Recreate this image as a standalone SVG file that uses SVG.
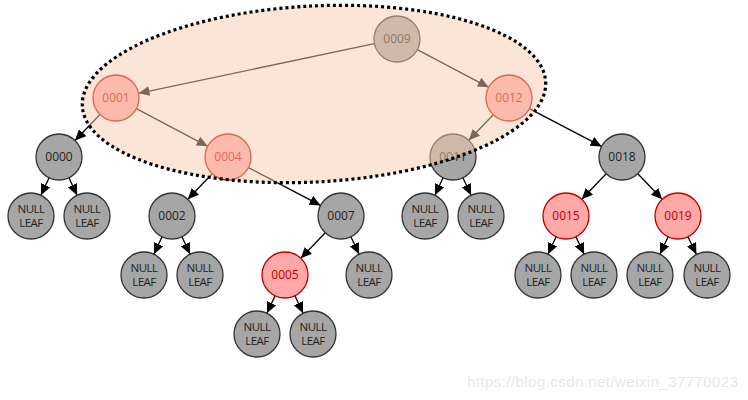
<svg xmlns="http://www.w3.org/2000/svg" width="748" height="400" viewBox="0 0 748 400">
<defs>
<marker id="arr" markerUnits="userSpaceOnUse" markerWidth="11" markerHeight="10" refX="11" refY="5" orient="auto">
<path d="M0,0 L11,5 L0,10 z" fill="#000"/>
</marker>
<style>
.e{stroke:#000;stroke-width:1.3;fill:none;marker-end:url(#arr)}
.g circle{fill:#a6a6a6;stroke:#333;stroke-width:1.3}
.r circle{fill:#ffa8a8;stroke:#c00000;stroke-width:1.3}
text{font-family:"Open Sans","Noto Sans","Liberation Sans",sans-serif;font-size:12px;text-anchor:middle}
.g text{fill:#222}
.r text{fill:#c00000}
.n text{font-size:11.5px;letter-spacing:-0.5px}
</style>
</defs>
<rect width="748" height="400" fill="#fff"/>
<g id="connectors">
<line class="e" x1="374.5" y1="43.7" x2="138.5" y2="93.3"/>
<line class="e" x1="417.3" y1="49.7" x2="488.7" y2="87.3"/>
<line class="e" x1="100" y1="114.5" x2="75" y2="140.5"/>
<line class="e" x1="136.3" y1="108.7" x2="207.7" y2="146.3"/>
<line class="e" x1="493.2" y1="114.7" x2="468.8" y2="140.3"/>
<line class="e" x1="529.4" y1="108.6" x2="601.6" y2="146.4"/>
<line class="e" x1="49.1" y1="177.8" x2="40.9" y2="195.2"/>
<line class="e" x1="68.9" y1="177.8" x2="77.1" y2="195.2"/>
<line class="e" x1="212.2" y1="173.7" x2="187.8" y2="199.3"/>
<line class="e" x1="248.4" y1="167.6" x2="320.6" y2="205.4"/>
<line class="e" x1="443.1" y1="177.8" x2="434.9" y2="195.2"/>
<line class="e" x1="462.9" y1="177.8" x2="471.1" y2="195.2"/>
<line class="e" x1="606.2" y1="173.7" x2="581.8" y2="199.3"/>
<line class="e" x1="637.8" y1="173.7" x2="662.2" y2="199.3"/>
<line class="e" x1="162.1" y1="236.8" x2="153.9" y2="254.2"/>
<line class="e" x1="181.9" y1="236.8" x2="190.1" y2="254.2"/>
<line class="e" x1="325.2" y1="232.7" x2="300.8" y2="258.3"/>
<line class="e" x1="350.9" y1="236.8" x2="359.1" y2="254.2"/>
<line class="e" x1="556.1" y1="236.8" x2="547.9" y2="254.2"/>
<line class="e" x1="575.9" y1="236.8" x2="584.1" y2="254.2"/>
<line class="e" x1="668.1" y1="236.8" x2="659.9" y2="254.2"/>
<line class="e" x1="687.9" y1="236.8" x2="696.4" y2="254.2"/>
<line class="e" x1="275.1" y1="295.8" x2="266.9" y2="313.2"/>
<line class="e" x1="294.9" y1="295.8" x2="303.1" y2="313.2"/>
</g>
<g id="n0009" class="g"><circle cx="397" cy="39" r="23"/><text x="397" y="43">0009</text></g>
<g id="n0001" class="r"><circle cx="116" cy="98" r="23"/><text x="116" y="102">0001</text></g>
<g id="n0012" class="r"><circle cx="509" cy="98" r="23"/><text x="509" y="102">0012</text></g>
<g id="n0000" class="g"><circle cx="59" cy="157" r="23"/><text x="59" y="161">0000</text></g>
<g id="n0004" class="r"><circle cx="228" cy="157" r="23"/><text x="228" y="161">0004</text></g>
<g id="n0011" class="g"><circle cx="453" cy="157" r="23"/><text x="453" y="161">0011</text></g>
<g id="n0018" class="g"><circle cx="622" cy="157" r="23"/><text x="622" y="161">0018</text></g>
<g id="leaf1" class="g n"><circle cx="31" cy="216" r="23"/><text x="31" y="213">NULL<tspan x="31" dy="13.5">LEAF</tspan></text></g>
<g id="leaf2" class="g n"><circle cx="87" cy="216" r="23"/><text x="87" y="213">NULL<tspan x="87" dy="13.5">LEAF</tspan></text></g>
<g id="n0002" class="g"><circle cx="172" cy="216" r="23"/><text x="172" y="220">0002</text></g>
<g id="n0007" class="g"><circle cx="341" cy="216" r="23"/><text x="341" y="220">0007</text></g>
<g id="leaf3" class="g n"><circle cx="425" cy="216" r="23"/><text x="425" y="213">NULL<tspan x="425" dy="13.5">LEAF</tspan></text></g>
<g id="leaf4" class="g n"><circle cx="481" cy="216" r="23"/><text x="481" y="213">NULL<tspan x="481" dy="13.5">LEAF</tspan></text></g>
<g id="n0015" class="r"><circle cx="566" cy="216" r="23"/><text x="566" y="220">0015</text></g>
<g id="n0019" class="r"><circle cx="678" cy="216" r="23"/><text x="678" y="220">0019</text></g>
<g id="leaf5" class="g n"><circle cx="144" cy="275" r="23"/><text x="144" y="272">NULL<tspan x="144" dy="13.5">LEAF</tspan></text></g>
<g id="leaf6" class="g n"><circle cx="200" cy="275" r="23"/><text x="200" y="272">NULL<tspan x="200" dy="13.5">LEAF</tspan></text></g>
<g id="n0005" class="r"><circle cx="285" cy="275" r="23"/><text x="285" y="279">0005</text></g>
<g id="leaf7" class="g n"><circle cx="369" cy="275" r="23"/><text x="369" y="272">NULL<tspan x="369" dy="13.5">LEAF</tspan></text></g>
<g id="leaf8" class="g n"><circle cx="538" cy="275" r="23"/><text x="538" y="272">NULL<tspan x="538" dy="13.5">LEAF</tspan></text></g>
<g id="leaf9" class="g n"><circle cx="594" cy="275" r="23"/><text x="594" y="272">NULL<tspan x="594" dy="13.5">LEAF</tspan></text></g>
<g id="leaf10" class="g n"><circle cx="650" cy="275" r="23"/><text x="650" y="272">NULL<tspan x="650" dy="13.5">LEAF</tspan></text></g>
<g id="leaf11" class="g n"><circle cx="707" cy="275" r="23"/><text x="707" y="272">NULL<tspan x="707" dy="13.5">LEAF</tspan></text></g>
<g id="leaf12" class="g n"><circle cx="257" cy="334" r="23"/><text x="257" y="331">NULL<tspan x="257" dy="13.5">LEAF</tspan></text></g>
<g id="leaf13" class="g n"><circle cx="313" cy="334" r="23"/><text x="313" y="331">NULL<tspan x="313" dy="13.5">LEAF</tspan></text></g>
<g id="highlight">
<ellipse cx="314" cy="94" rx="232" ry="88" transform="rotate(-3 314 94)" fill="#f8cbad" fill-opacity="0.5" stroke="#000" stroke-width="3.2" stroke-dasharray="3 3"/>
</g>
<text x="467" y="387" style="font-family:'Liberation Sans',Arial,sans-serif;font-size:15px;text-anchor:start;fill:#e8e8e8" textLength="271">https://blog.csdn.net/weixin_37770023</text>
</svg>
